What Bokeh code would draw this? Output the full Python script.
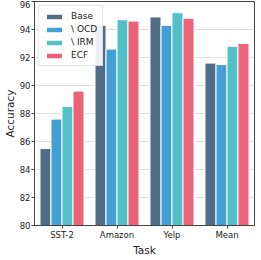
from bokeh.plotting import figure
from bokeh.models import ColumnDataSource, Legend, LegendItem, FixedTicker
from bokeh.transform import dodge
from bokeh.embed import file_html
from bokeh.resources import INLINE

tasks = ["SST-2", "Amazon", "Yelp", "Mean"]
series_names = ["Base", "\\ OCD", "\\ IRM", "ECF"]
base = [85.5, 94.3, 94.9, 91.6]
ocd = [87.6, 92.6, 94.3, 91.5]
irm = [88.5, 94.7, 95.2, 92.8]
ecf = [89.6, 94.6, 94.8, 93.0]
colors = ["#506d87", "#449fd6", "#52c0c7", "#ea6379"]
y_ticks = [80, 82, 84, 86, 88, 90, 92, 94, 96]

src = ColumnDataSource(dict(task=tasks, base=base, ocd=ocd, irm=irm, ecf=ecf))

FONT = "DejaVu Sans"
p = figure(x_range=tasks, y_range=(80, 96), frame_width=220, frame_height=224,
           output_backend="svg", toolbar_location=None,
           min_border_left=0, min_border_right=2, min_border_top=1, min_border_bottom=0)
p.x_range.range_padding = 0

offsets = [-0.3, -0.1, 0.1, 0.3]
keys = ["base", "ocd", "irm", "ecf"]
renderers = []
for k, off, c in zip(keys, offsets, colors):
    r = p.vbar(x=dodge("task", off, range=p.x_range), top=k, bottom=80, width=0.2,
               source=src, fill_color=c, line_color="white", line_width=1)
    renderers.append(r)

legend = Legend(items=[LegendItem(label=n, renderers=[r]) for n, r in zip(series_names, renderers)],
                location="top_left", label_text_font=FONT, label_text_font_size="9px",
                label_text_color="#222222",
                glyph_width=20, glyph_height=7, label_height=9, spacing=3,
                padding=5, margin=4, border_line_color="#cccccc", border_line_width=1,
                background_fill_alpha=0.9, label_standoff=7)
p.add_layout(legend)

p.xgrid.grid_line_color = None
p.ygrid.grid_line_color = "#e0e0e0"
p.ygrid.grid_line_width = 1
p.yaxis.ticker = FixedTicker(ticks=y_ticks)
p.outline_line_color = "#444444"
p.outline_line_width = 1
for ax in [p.xaxis[0], p.yaxis[0]]:
    ax.axis_line_color = "#444444"
    ax.major_tick_line_color = "#444444"
    ax.major_tick_out = 3
    ax.major_tick_in = 0
    ax.minor_tick_line_color = None
    ax.major_label_text_font = FONT
    ax.major_label_text_font_size = "8.5px"
    ax.major_label_text_color = "#222222"
    ax.axis_label_text_font = FONT
    ax.axis_label_text_font_size = "10.5px"
    ax.axis_label_text_font_style = "normal"
    ax.axis_label_text_color = "#222222"
    ax.major_label_standoff = 1
    ax.axis_label_standoff = 1
p.xaxis.axis_label = "Task"
p.yaxis.axis_label = "Accuracy"

open("out.html", "w").write(file_html(p, INLINE))
